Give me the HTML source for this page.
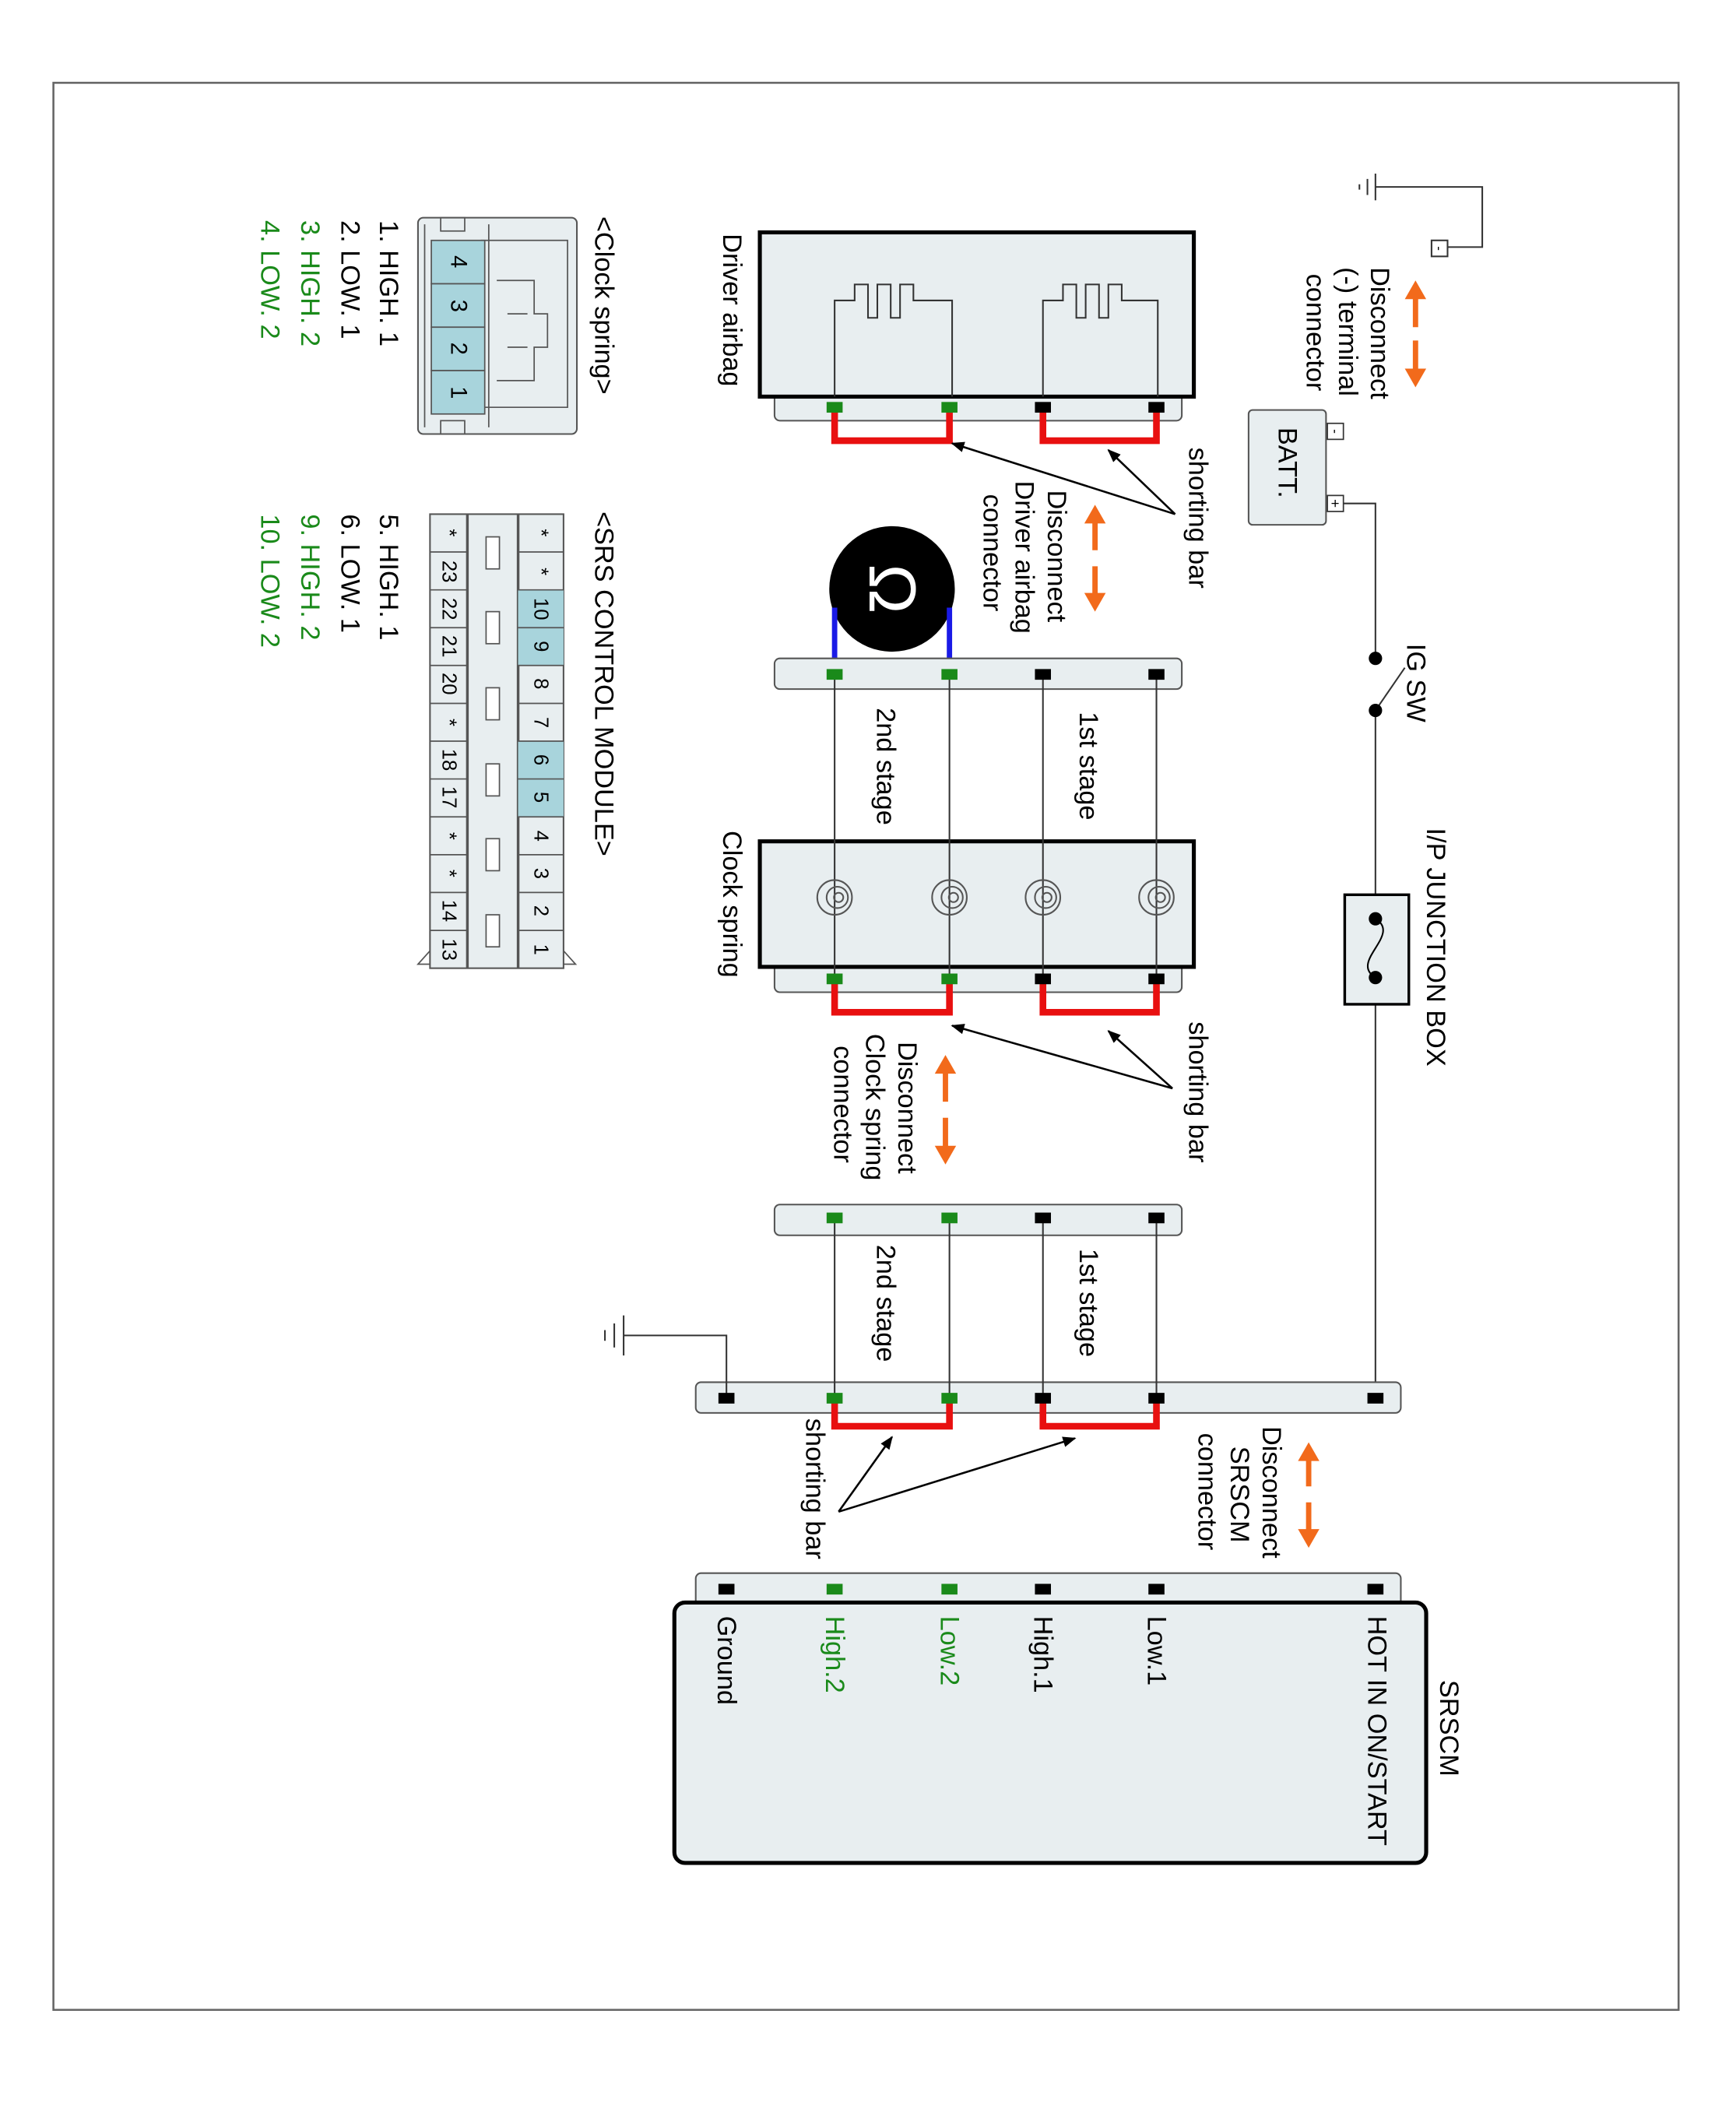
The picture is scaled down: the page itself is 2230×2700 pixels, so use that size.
<!DOCTYPE html>
<html><head><meta charset="utf-8"><style>
html,body{margin:0;padding:0;background:#fff;}
svg{display:block;}
text{font-family:"Liberation Sans",sans-serif;}
</style></head><body>
<svg width="2230" height="2700" viewBox="0 0 1300 1574" preserveAspectRatio="none" xmlns="http://www.w3.org/2000/svg">
<defs>
<marker id="ah" markerWidth="10" markerHeight="8" refX="9" refY="4" orient="auto" markerUnits="userSpaceOnUse"><path d="M0,0 L10,4 L0,8 z" fill="#000"/></marker>
</defs>
<rect x="40" y="62" width="1217" height="1443" fill="none" stroke="#666" stroke-width="1.5"/>

<g stroke="#333" stroke-width="1.2" fill="none">
<!-- top ground -->
<path d="M1030,140 H1110 V185 H1084"/>
<line x1="1030" y1="130" x2="1030" y2="150"/><line x1="1024" y1="134" x2="1024" y2="146"/><line x1="1018" y1="138" x2="1018" y2="142"/>
<rect x="1072" y="180" width="12" height="12" fill="#fff"/>
<!-- main wire -->
<path d="M1006,377 H1030 V493"/>
<line x1="1030" y1="532" x2="1030" y2="1047"/>
<line x1="1030" y1="532" x2="1052" y2="500"/>
</g>
<text x="1078" y="186" font-size="10" text-anchor="middle" dominant-baseline="central" transform="rotate(90 1078 186)">-</text>
<circle cx="1030" cy="493" r="5" fill="#000"/><circle cx="1030" cy="532" r="5" fill="#000"/>
<text x="1060" y="482" font-size="20" dominant-baseline="central" transform="rotate(90 1060 482)">IG SW</text>

<!-- junction box -->
<rect x="1007" y="670" width="48" height="82" fill="#e8eef0" stroke="#000" stroke-width="2"/>
<circle cx="1030" cy="688" r="5" fill="#000"/><circle cx="1030" cy="732" r="5" fill="#000"/>
<path d="M1030,688 C1050,700 1010,720 1030,732" stroke="#000" fill="none" stroke-width="1.2"/>
<text x="1075" y="620" font-size="20" dominant-baseline="central" transform="rotate(90 1075 620)">I/P JUNCTION BOX</text>

<!-- BATT -->
<rect x="935" y="307" width="58" height="86" rx="3" fill="#e8eef0" stroke="#555" stroke-width="1.2"/>
<rect x="994" y="317" width="12" height="12" fill="#fff" stroke="#333"/>
<rect x="994" y="371" width="12" height="12" fill="#fff" stroke="#333"/>
<text x="1000" y="323" font-size="10" text-anchor="middle" dominant-baseline="central" transform="rotate(90 1000 323)">-</text>
<text x="1000" y="377" font-size="11" text-anchor="middle" dominant-baseline="central" transform="rotate(90 1000 377)">+</text>
<text x="964" y="320" font-size="20" dominant-baseline="central" transform="rotate(90 964 320)">BATT.</text>

<!-- orange arrows -->
<g stroke="#f26a1b" stroke-width="4" fill="#f26a1b">
<line x1="1060" y1="222" x2="1060" y2="245"/><path d="M1052,224 L1060,210 L1068,224 z" stroke="none"/>
<line x1="1060" y1="255" x2="1060" y2="278"/><path d="M1052,276 L1060,290 L1068,276 z" stroke="none"/>
<line x1="820" y1="390" x2="820" y2="412"/><path d="M812,392 L820,378 L828,392 z" stroke="none"/>
<line x1="820" y1="424" x2="820" y2="446"/><path d="M812,444 L820,458 L828,444 z" stroke="none"/>
<line x1="708" y1="802" x2="708" y2="825"/><path d="M700,804 L708,790 L716,804 z" stroke="none"/>
<line x1="708" y1="837" x2="708" y2="860"/><path d="M700,858 L708,872 L716,858 z" stroke="none"/>
<line x1="980" y1="1092" x2="980" y2="1113"/><path d="M972,1094 L980,1080 L988,1094 z" stroke="none"/>
<line x1="980" y1="1125" x2="980" y2="1147"/><path d="M972,1145 L980,1159 L988,1145 z" stroke="none"/>
</g>
<g font-size="20">
<text x="1033" y="200" dominant-baseline="central" transform="rotate(90 1033 200)">Disconnect</text>
<text x="1009" y="200" dominant-baseline="central" transform="rotate(90 1009 200)">(-) terminal</text>
<text x="985" y="205" dominant-baseline="central" transform="rotate(90 985 205)">connector</text>
<text x="791" y="367" dominant-baseline="central" transform="rotate(90 791 367)">Disconnect</text>
<text x="767" y="360" dominant-baseline="central" transform="rotate(90 767 360)">Driver airbag</text>
<text x="743" y="370" dominant-baseline="central" transform="rotate(90 743 370)">connector</text>
<text x="679" y="780" dominant-baseline="central" transform="rotate(90 679 780)">Disconnect</text>
<text x="655" y="774" dominant-baseline="central" transform="rotate(90 655 774)">Clock spring</text>
<text x="631" y="783" dominant-baseline="central" transform="rotate(90 631 783)">connector</text>
<text x="952" y="1068" dominant-baseline="central" transform="rotate(90 952 1068)">Disconnect</text>
<text x="928" y="1083" dominant-baseline="central" transform="rotate(90 928 1083)">SRSCM</text>
<text x="904" y="1073" dominant-baseline="central" transform="rotate(90 904 1073)">connector</text>
</g>

<!-- Driver airbag -->
<rect x="580" y="290" width="305" height="25" rx="4" fill="#e8eef0" stroke="#555" stroke-width="1.2"/>
<rect x="569" y="174" width="325" height="123" fill="#e8eef0" stroke="#000" stroke-width="3"/>
<g stroke="#333" stroke-width="1.2" fill="none">
<path d="M625,297 V225 H640 V213 H650 V238 H657 V213 H667 V238 H674 V213 H684 V225 H713 V297"/>
<path d="M781,297 V225 H796 V213 H806 V238 H813 V213 H823 V238 H830 V213 H840 V225 H867 V297"/>
</g>
<text x="548" y="175" font-size="20" dominant-baseline="central" transform="rotate(90 548 175)">Driver airbag</text>

<!-- Omega meter -->
<circle cx="668" cy="441" r="47" fill="#000"/>
<text x="668" y="441" font-size="50" fill="#fff" text-anchor="middle" dominant-baseline="central" transform="rotate(90 668 441)">Ω</text>
<g stroke="#1a1ae6" stroke-width="4"><line x1="625" y1="455" x2="625" y2="505"/><line x1="711" y1="455" x2="711" y2="505"/></g>

<!-- middle bar 1 -->
<rect x="580" y="493" width="305" height="23" rx="4" fill="#e8eef0" stroke="#555" stroke-width="1.2"/>
<!-- clock spring box -->
<rect x="580" y="718" width="305" height="25" rx="4" fill="#e8eef0" stroke="#555" stroke-width="1.2"/>
<rect x="569" y="630" width="325" height="94" fill="#e8eef0" stroke="#000" stroke-width="3"/>
<text x="548" y="622" font-size="20" dominant-baseline="central" transform="rotate(90 548 622)">Clock spring</text>
<!-- bar 2 -->
<rect x="580" y="902" width="305" height="23" rx="4" fill="#e8eef0" stroke="#555" stroke-width="1.2"/>
<!-- SRSCM connector bar -->
<rect x="521" y="1035" width="528" height="23" rx="4" fill="#e8eef0" stroke="#555" stroke-width="1.2"/>

<!-- wires -->
<g stroke="#333" stroke-width="1.2" fill="none">
<line x1="625" y1="505" x2="625" y2="733"/><line x1="711" y1="505" x2="711" y2="733"/>
<line x1="781" y1="505" x2="781" y2="733"/><line x1="866" y1="505" x2="866" y2="733"/>
<line x1="625" y1="912" x2="625" y2="1047"/><line x1="711" y1="912" x2="711" y2="1047"/>
<line x1="781" y1="912" x2="781" y2="1047"/><line x1="866" y1="912" x2="866" y2="1047"/>
<path d="M544,1047 V1000 H467"/>
<line x1="467" y1="985" x2="467" y2="1015"/><line x1="460" y1="991" x2="460" y2="1009"/><line x1="453" y1="996" x2="453" y2="1004"/>
</g>
<!-- spirals -->
<g stroke="#555" stroke-width="1.2" fill="none">
<circle cx="625" cy="672" r="13"/><circle cx="627" cy="672" r="8"/><circle cx="628" cy="672" r="3.5"/>
<circle cx="711" cy="672" r="13"/><circle cx="713" cy="672" r="8"/><circle cx="714" cy="672" r="3.5"/>
<circle cx="781" cy="672" r="13"/><circle cx="783" cy="672" r="8"/><circle cx="784" cy="672" r="3.5"/>
<circle cx="866" cy="672" r="13"/><circle cx="868" cy="672" r="8"/><circle cx="869" cy="672" r="3.5"/>
</g>
<g font-size="20">
<text x="815" y="533" dominant-baseline="central" transform="rotate(90 815 533)">1st stage</text>
<text x="663" y="530" dominant-baseline="central" transform="rotate(90 663 530)">2nd stage</text>
<text x="815" y="935" dominant-baseline="central" transform="rotate(90 815 935)">1st stage</text>
<text x="663" y="932" dominant-baseline="central" transform="rotate(90 663 932)">2nd stage</text>
</g>

<!-- red shorting bars -->
<g stroke="#e81010" stroke-width="5" fill="none">
<path d="M625,305 V330 H711 V305"/><path d="M781,305 V330 H866 V305"/>
<path d="M625,733 V758 H711 V733"/><path d="M781,733 V758 H866 V733"/>
<path d="M625,1047 V1068 H711 V1047"/><path d="M781,1047 V1068 H866 V1047"/>
</g>

<!-- terminals -->
<g>
<rect x="619" y="301" width="12" height="8" fill="#1a8a1a"/><rect x="705" y="301" width="12" height="8" fill="#1a8a1a"/>
<rect x="775" y="301" width="12" height="8" fill="#000"/><rect x="860" y="301" width="12" height="8" fill="#000"/>
<rect x="619" y="501" width="12" height="8" fill="#1a8a1a"/><rect x="705" y="501" width="12" height="8" fill="#1a8a1a"/>
<rect x="775" y="501" width="12" height="8" fill="#000"/><rect x="860" y="501" width="12" height="8" fill="#000"/>
<rect x="619" y="729" width="12" height="8" fill="#1a8a1a"/><rect x="705" y="729" width="12" height="8" fill="#1a8a1a"/>
<rect x="775" y="729" width="12" height="8" fill="#000"/><rect x="860" y="729" width="12" height="8" fill="#000"/>
<rect x="619" y="908" width="12" height="8" fill="#1a8a1a"/><rect x="705" y="908" width="12" height="8" fill="#1a8a1a"/>
<rect x="775" y="908" width="12" height="8" fill="#000"/><rect x="860" y="908" width="12" height="8" fill="#000"/>
<rect x="538" y="1043" width="12" height="8" fill="#000"/>
<rect x="619" y="1043" width="12" height="8" fill="#1a8a1a"/><rect x="705" y="1043" width="12" height="8" fill="#1a8a1a"/>
<rect x="775" y="1043" width="12" height="8" fill="#000"/><rect x="860" y="1043" width="12" height="8" fill="#000"/>
<rect x="1024" y="1043" width="12" height="8" fill="#000"/>
</g>

<!-- shorting bar labels and arrows -->
<g stroke="#000" stroke-width="1.5" fill="none" marker-end="url(#ah)">
<line x1="880" y1="385" x2="713" y2="332"/><line x1="880" y1="385" x2="830" y2="337"/>
<line x1="878" y1="815" x2="713" y2="768"/><line x1="878" y1="815" x2="830" y2="772"/>
<line x1="628" y1="1132" x2="668" y2="1076"/><line x1="628" y1="1132" x2="805" y2="1077"/>
</g>
<g font-size="20">
<text x="897" y="335" dominant-baseline="central" transform="rotate(90 897 335)">shorting bar</text>
<text x="897" y="765" dominant-baseline="central" transform="rotate(90 897 765)">shorting bar</text>
<text x="610" y="1062" dominant-baseline="central" transform="rotate(90 610 1062)">shorting bar</text>
</g>

<!-- SRSCM -->
<rect x="521" y="1178" width="528" height="30" rx="4" fill="#e8eef0" stroke="#555" stroke-width="1.2"/>
<rect x="505" y="1200" width="563" height="195" rx="8" fill="#e8eef0" stroke="#000" stroke-width="3"/>
<g>
<rect x="538" y="1186" width="12" height="8" fill="#000"/>
<rect x="619" y="1186" width="12" height="8" fill="#1a8a1a"/><rect x="705" y="1186" width="12" height="8" fill="#1a8a1a"/>
<rect x="775" y="1186" width="12" height="8" fill="#000"/><rect x="860" y="1186" width="12" height="8" fill="#000"/>
<rect x="1024" y="1186" width="12" height="8" fill="#000"/>
</g>
<g font-size="20">
<text x="1085" y="1258" dominant-baseline="central" transform="rotate(90 1085 1258)">SRSCM</text>
<text x="1031" y="1210" dominant-baseline="central" transform="rotate(90 1031 1210)">HOT IN ON/START</text>
<text x="866" y="1210" dominant-baseline="central" transform="rotate(90 866 1210)">Low.1</text>
<text x="781" y="1210" dominant-baseline="central" transform="rotate(90 781 1210)">High.1</text>
<text x="711" y="1210" fill="#1a8a1a" dominant-baseline="central" transform="rotate(90 711 1210)">Low.2</text>
<text x="625" y="1210" fill="#1a8a1a" dominant-baseline="central" transform="rotate(90 625 1210)">High.2</text>
<text x="544" y="1210" dominant-baseline="central" transform="rotate(90 544 1210)">Ground</text>
</g>

<!-- Clock spring connector -->
<rect x="313" y="163" width="119" height="162" rx="4" fill="#e8eef0" stroke="#555" stroke-width="1.2"/>
<g stroke="#555" stroke-width="1" fill="none">
<path d="M318,168 V320 M366,168 V320"/>
<path d="M360,180 H425 V305 H360"/>
<path d="M372,210 H400 V235 H410 V260 H400 V285 H372"/>
<path d="M380,235 H395 M380,260 H395"/>
<rect x="330" y="163" width="18" height="10"/><rect x="330" y="315" width="18" height="10"/>
</g>
<g fill="#a8d4dc" stroke="#555" stroke-width="1">
<rect x="323" y="180" width="40" height="32.5"/><rect x="323" y="212.5" width="40" height="32.5"/>
<rect x="323" y="245" width="40" height="32.5"/><rect x="323" y="277.5" width="40" height="32.5"/>
</g>
<g font-size="17" text-anchor="middle">
<text x="343" y="196" dominant-baseline="central" transform="rotate(90 343 196)">4</text>
<text x="343" y="229" dominant-baseline="central" transform="rotate(90 343 229)">3</text>
<text x="343" y="261" dominant-baseline="central" transform="rotate(90 343 261)">2</text>
<text x="343" y="294" dominant-baseline="central" transform="rotate(90 343 294)">1</text>
</g>
<text x="452" y="162" font-size="20" dominant-baseline="central" transform="rotate(90 452 162)">&lt;Clock spring&gt;</text>
<g font-size="20">
<text x="291" y="165" dominant-baseline="central" transform="rotate(90 291 165)">1. HIGH. 1</text>
<text x="262" y="165" dominant-baseline="central" transform="rotate(90 262 165)">2. LOW. 1</text>
<text x="232" y="165" fill="#1a8a1a" dominant-baseline="central" transform="rotate(90 232 165)">3. HIGH. 2</text>
<text x="202" y="165" fill="#1a8a1a" dominant-baseline="central" transform="rotate(90 202 165)">4. LOW. 2</text>
<text x="291" y="385" dominant-baseline="central" transform="rotate(90 291 385)">5. HIGH. 1</text>
<text x="262" y="385" dominant-baseline="central" transform="rotate(90 262 385)">6. LOW. 1</text>
<text x="232" y="385" fill="#1a8a1a" dominant-baseline="central" transform="rotate(90 232 385)">9. HIGH. 2</text>
<text x="202" y="385" fill="#1a8a1a" dominant-baseline="central" transform="rotate(90 202 385)">10. LOW. 2</text>
</g>

<!-- SRS control module connector -->
<path d="M322,712 L313,722 H322 M422,712 L431,722 H422" stroke="#555" fill="none"/>
<rect x="322" y="385" width="100" height="340" fill="#e8eef0" stroke="#555" stroke-width="1.2"/>
<line x1="350" y1="385" x2="350" y2="725" stroke="#555" stroke-width="2"/>
<line x1="388" y1="385" x2="388" y2="725" stroke="#555" stroke-width="2"/>
<g fill="#a8d4dc">
<rect x="388" y="441.7" width="34" height="56.6"/>
<rect x="388" y="555" width="34" height="56.6"/>
</g>
<g stroke="#555" stroke-width="1">
<line x1="322" y1="413.3" x2="350" y2="413.3"/><line x1="388" y1="413.3" x2="422" y2="413.3"/>
<line x1="322" y1="441.7" x2="350" y2="441.7"/><line x1="388" y1="441.7" x2="422" y2="441.7"/>
<line x1="322" y1="470" x2="350" y2="470"/><line x1="388" y1="470" x2="422" y2="470"/>
<line x1="322" y1="498.3" x2="350" y2="498.3"/><line x1="388" y1="498.3" x2="422" y2="498.3"/>
<line x1="322" y1="526.7" x2="350" y2="526.7"/><line x1="388" y1="526.7" x2="422" y2="526.7"/>
<line x1="322" y1="555" x2="350" y2="555"/><line x1="388" y1="555" x2="422" y2="555"/>
<line x1="322" y1="583.3" x2="350" y2="583.3"/><line x1="388" y1="583.3" x2="422" y2="583.3"/>
<line x1="322" y1="611.7" x2="350" y2="611.7"/><line x1="388" y1="611.7" x2="422" y2="611.7"/>
<line x1="322" y1="640" x2="350" y2="640"/><line x1="388" y1="640" x2="422" y2="640"/>
<line x1="322" y1="668.3" x2="350" y2="668.3"/><line x1="388" y1="668.3" x2="422" y2="668.3"/>
<line x1="322" y1="696.7" x2="350" y2="696.7"/><line x1="388" y1="696.7" x2="422" y2="696.7"/>
</g>
<g fill="#fff" stroke="#555" stroke-width="1">
<rect x="364" y="402" width="10" height="24"/><rect x="364" y="458" width="10" height="24"/>
<rect x="364" y="515" width="10" height="24"/><rect x="364" y="572" width="10" height="24"/>
<rect x="364" y="628" width="10" height="24"/><rect x="364" y="685" width="10" height="24"/>
</g>
<g font-size="15" text-anchor="middle">
<text x="405" y="399" dominant-baseline="central" transform="rotate(90 405 399)">*</text>
<text x="405" y="428" dominant-baseline="central" transform="rotate(90 405 428)">*</text>
<text x="405" y="456" dominant-baseline="central" transform="rotate(90 405 456)">10</text>
<text x="405" y="484" dominant-baseline="central" transform="rotate(90 405 484)">9</text>
<text x="405" y="512" dominant-baseline="central" transform="rotate(90 405 512)">8</text>
<text x="405" y="541" dominant-baseline="central" transform="rotate(90 405 541)">7</text>
<text x="405" y="569" dominant-baseline="central" transform="rotate(90 405 569)">6</text>
<text x="405" y="597" dominant-baseline="central" transform="rotate(90 405 597)">5</text>
<text x="405" y="626" dominant-baseline="central" transform="rotate(90 405 626)">4</text>
<text x="405" y="654" dominant-baseline="central" transform="rotate(90 405 654)">3</text>
<text x="405" y="682" dominant-baseline="central" transform="rotate(90 405 682)">2</text>
<text x="405" y="711" dominant-baseline="central" transform="rotate(90 405 711)">1</text>
<text x="336" y="399" dominant-baseline="central" transform="rotate(90 336 399)">*</text>
<text x="336" y="428" dominant-baseline="central" transform="rotate(90 336 428)">23</text>
<text x="336" y="456" dominant-baseline="central" transform="rotate(90 336 456)">22</text>
<text x="336" y="484" dominant-baseline="central" transform="rotate(90 336 484)">21</text>
<text x="336" y="512" dominant-baseline="central" transform="rotate(90 336 512)">20</text>
<text x="336" y="541" dominant-baseline="central" transform="rotate(90 336 541)">*</text>
<text x="336" y="569" dominant-baseline="central" transform="rotate(90 336 569)">18</text>
<text x="336" y="597" dominant-baseline="central" transform="rotate(90 336 597)">17</text>
<text x="336" y="626" dominant-baseline="central" transform="rotate(90 336 626)">*</text>
<text x="336" y="654" dominant-baseline="central" transform="rotate(90 336 654)">*</text>
<text x="336" y="682" dominant-baseline="central" transform="rotate(90 336 682)">14</text>
<text x="336" y="711" dominant-baseline="central" transform="rotate(90 336 711)">13</text>
</g>
<text x="452" y="383" font-size="20" dominant-baseline="central" transform="rotate(90 452 383)">&lt;SRS CONTROL MODULE&gt;</text>
</svg>
</body></html>
